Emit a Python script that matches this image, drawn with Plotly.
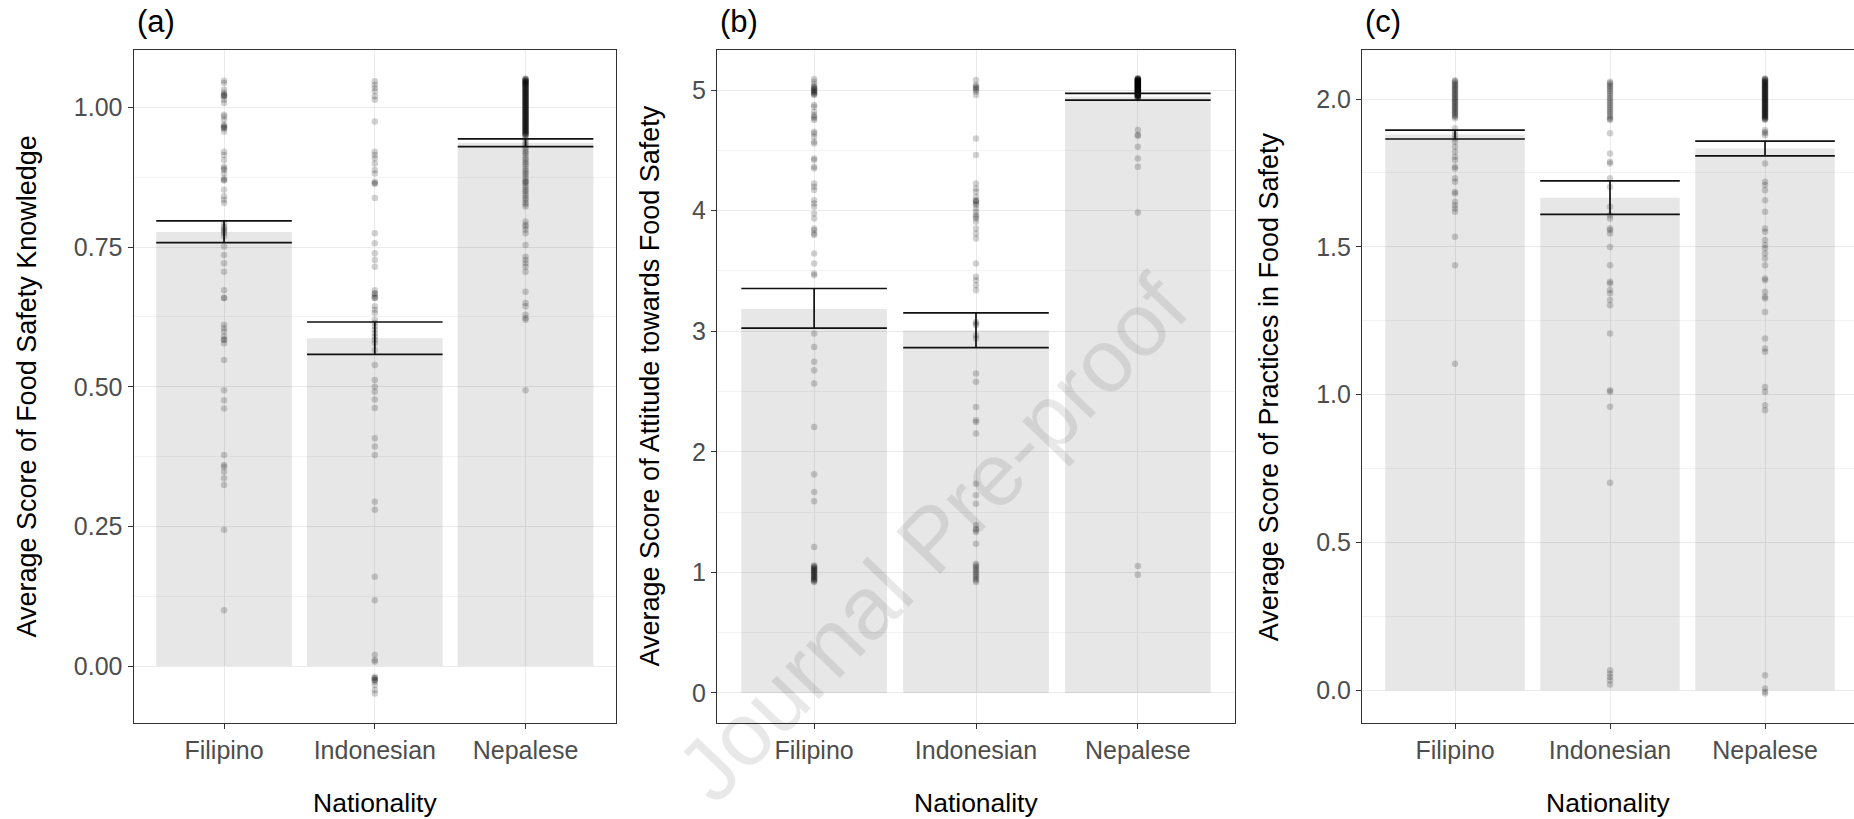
import plotly.graph_objects as go

# ---------------- data ----------------
nationalities = ["Filipino", "Indonesian", "Nepalese"]

# panel (a) knowledge
know_mean = [0.777, 0.587, 0.937]
know_lo = [0.758, 0.558, 0.930]
know_hi = [0.797, 0.616, 0.944]
know_filipino = [1.048, 1.044, 1.032, 1.027, 1.023, 1.023, 1.020, 1.020, 1.014, 1.008, 0.987, 0.984,
                 0.978, 0.969, 0.966, 0.966, 0.963, 0.963, 0.957, 0.921, 0.915, 0.906, 0.894, 0.891,
                 0.888, 0.882, 0.873, 0.870, 0.870, 0.853, 0.841, 0.835, 0.829, 0.793, 0.787, 0.784,
                 0.781, 0.778, 0.775, 0.769, 0.751, 0.736, 0.721, 0.706, 0.673, 0.659, 0.659, 0.611,
                 0.605, 0.599, 0.590, 0.584, 0.584, 0.578, 0.548, 0.494, 0.476, 0.461, 0.378, 0.360,
                 0.357, 0.348, 0.336, 0.324, 0.244, 0.100]
know_indonesian = [1.047, 1.041, 1.035, 1.029, 1.020, 1.014, 0.975, 0.921, 0.915, 0.909, 0.900, 0.888,
                   0.882, 0.867, 0.864, 0.864, 0.838, 0.775, 0.757, 0.739, 0.727, 0.715, 0.673, 0.667,
                   0.667, 0.662, 0.659, 0.659, 0.644, 0.638, 0.632, 0.620, 0.614, 0.608, 0.602, 0.596,
                   0.590, 0.584, 0.578, 0.566, 0.539, 0.512, 0.500, 0.491, 0.477, 0.462, 0.408, 0.393,
                   0.378, 0.294, 0.280, 0.160, 0.118, 0.020, 0.011, 0.008, -0.019, -0.022, -0.022,
                   -0.025, -0.025, -0.028, -0.034, -0.043, -0.049]
know_nepalese = [1.052, 1.051, 1.050, 1.049, 1.048, 1.048, 1.047, 1.046, 1.045, 1.044, 1.044, 1.043,
                 1.042, 1.041, 1.040, 1.039, 1.039, 1.037, 1.036, 1.035, 1.034, 1.033, 1.032, 1.031,
                 1.030, 1.029, 1.028, 1.027, 1.026, 1.025, 1.024, 1.023, 1.022, 1.021, 1.020, 1.019,
                 1.018, 1.017, 1.016, 1.015, 1.014, 1.013, 1.012, 1.011, 1.010, 1.009, 1.008, 1.007,
                 1.006, 1.005, 1.004, 1.003, 1.002, 1.001, 1.000, 0.999, 0.998, 0.997, 0.996, 0.995,
                 0.994, 0.993, 0.992, 0.991, 0.990, 0.989, 0.988, 0.987, 0.986, 0.985, 0.984, 0.983,
                 0.982, 0.981, 0.980, 0.979, 0.978, 0.977, 0.976, 0.975, 0.974, 0.973, 0.972, 0.971,
                 0.970, 0.969, 0.968, 0.967, 0.966, 0.965, 0.964, 0.963, 0.962, 0.961, 0.960, 0.959,
                 0.958, 0.957, 0.956, 0.955, 0.954, 0.953, 0.952, 0.951, 0.950,
                 0.945, 0.941, 0.936, 0.933, 0.929, 0.925, 0.921, 0.918, 0.914, 0.909, 0.906, 0.902,
                 0.899, 0.895, 0.890, 0.887, 0.883, 0.880, 0.876, 0.872, 0.868, 0.867, 0.865, 0.861,
                 0.857, 0.853, 0.850, 0.846, 0.842, 0.838, 0.835, 0.830, 0.827, 0.823, 0.796, 0.790,
                 0.787, 0.781, 0.775, 0.754, 0.733, 0.727, 0.721, 0.715, 0.706, 0.670, 0.650, 0.644,
                 0.629, 0.623, 0.620, 0.494]

# panel (b) attitude
att_mean = [3.185, 3.005, 4.945]
att_lo = [3.025, 2.864, 4.917]
att_hi = [3.354, 3.152, 4.972]
att_filipino = [5.091, 5.069, 5.045, 5.028, 5.020, 5.014, 5.007, 5.000, 4.993, 4.986, 4.979, 4.972,
                4.965, 4.959, 4.876, 4.862, 4.820, 4.793, 4.779, 4.765, 4.751, 4.654, 4.640, 4.613,
                4.571, 4.557, 4.433, 4.419, 4.364, 4.350, 4.225, 4.198, 4.170, 4.087, 4.059, 4.032,
                3.976, 3.935, 3.852, 3.838, 3.811, 3.797, 3.645, 3.562, 3.479, 3.465, 2.981, 2.870,
                2.746, 2.676, 2.566, 2.206, 1.813, 1.667, 1.589, 1.210, 1.058, 1.051, 1.044, 1.037,
                1.030, 1.024, 1.017, 1.010, 1.003, 0.996, 0.989, 0.982, 0.975, 0.968, 0.961, 0.955,
                0.948, 0.941, 0.934, 0.927, 0.920]
att_indonesian = [5.083, 5.041, 5.030, 5.022, 5.011, 5.000, 4.985, 4.959, 4.599, 4.461, 4.225, 4.184,
                  4.156, 4.115, 4.087, 4.080, 4.073, 4.060, 4.046, 4.018, 3.990, 3.963, 3.950, 3.935,
                  3.907, 3.852, 3.811, 3.769, 3.562, 3.451, 3.423, 3.382, 3.340, 3.077, 3.064, 3.050,
                  2.967, 2.939, 2.649, 2.580, 2.372, 2.261, 2.247, 2.151, 1.736, 1.639, 1.570, 1.390,
                  1.362, 1.349, 1.335, 1.238, 1.072, 1.058, 1.044, 1.030, 1.017, 1.003, 0.989, 0.975,
                  0.961, 0.948, 0.934, 0.920]
att_nepalese = [5.097, 5.095, 5.093, 5.091, 5.089, 5.087, 5.085, 5.083, 5.081, 5.079, 5.077, 5.075,
                5.073, 5.071, 5.069, 5.067, 5.065, 5.063, 5.061, 5.059, 5.057, 5.055, 5.053, 5.051,
                5.049, 5.047, 5.045, 5.043, 5.041, 5.039, 5.037, 5.035, 5.033, 5.031, 5.029, 5.027,
                5.025, 5.023, 5.021, 5.019, 5.017, 5.015, 5.013, 5.011, 5.009, 5.007, 5.005, 5.003,
                5.001, 4.999, 4.997, 4.995, 4.993, 4.991, 4.989, 4.987, 4.985, 4.983, 4.981, 4.979,
                4.977, 4.975, 4.973, 4.971, 4.969, 4.967, 4.965, 4.963, 4.961, 4.959, 4.957, 4.955,
                4.953, 4.951, 4.948, 4.945, 4.941, 4.936, 4.931, 4.668, 4.627, 4.620, 4.530, 4.433,
                4.364, 3.985, 1.052, 0.980]

# panel (c) practices
prac_mean = [1.880, 1.666, 1.833]
prac_lo = [1.865, 1.610, 1.808]
prac_hi = [1.895, 1.723, 1.858]
prac_filipino = [2.064, 2.060, 2.056, 2.052, 2.048, 2.044, 2.040, 2.036, 2.032, 2.028, 2.024, 2.020,
                 2.016, 2.012, 2.008, 2.004, 2.000, 1.996, 1.992, 1.988, 1.984, 1.980, 1.976, 1.972,
                 1.968, 1.964, 1.960, 1.956, 1.952, 1.948, 1.944, 1.940, 1.935, 1.901, 1.889, 1.878,
                 1.867, 1.856, 1.839, 1.822, 1.805, 1.794, 1.771, 1.765, 1.732, 1.720, 1.686, 1.681,
                 1.653, 1.641, 1.630, 1.619, 1.534, 1.438, 1.105]
prac_indonesian = [2.059, 2.054, 2.049, 2.044, 2.039, 2.034, 2.028, 2.022, 2.016, 2.010, 2.004, 1.998,
                   1.992, 1.986, 1.980, 1.974, 1.968, 1.962, 1.956, 1.950, 1.944, 1.938, 1.933, 1.929,
                   1.884, 1.816, 1.788, 1.782, 1.732, 1.703, 1.636, 1.607, 1.596, 1.562, 1.556, 1.545,
                   1.500, 1.438, 1.382, 1.376, 1.354, 1.343, 1.320, 1.303, 1.207, 1.015, 1.010, 0.959,
                   0.702, 0.068, 0.056, 0.045, 0.034, 0.020]
prac_nepalese = [2.070, 2.068, 2.066, 2.064, 2.062, 2.060, 2.058, 2.056, 2.054, 2.052, 2.050, 2.048,
                 2.046, 2.044, 2.042, 2.040, 2.038, 2.036, 2.034, 2.032, 2.030, 2.028, 2.026, 2.024,
                 2.022, 2.020, 2.018, 2.016, 2.014, 2.012, 2.010, 2.008, 2.006, 2.004, 2.002, 2.000,
                 1.998, 1.996, 1.994, 1.992, 1.990, 1.988, 1.986, 1.984, 1.982, 1.980, 1.978, 1.976,
                 1.974, 1.972, 1.970, 1.968, 1.966, 1.964, 1.962, 1.960, 1.958, 1.956, 1.954, 1.952,
                 1.950, 1.948, 1.946, 1.944, 1.942, 1.940, 1.938, 1.936, 1.934, 1.932, 1.929,
                 1.895, 1.889, 1.884, 1.878, 1.782, 1.720, 1.709, 1.692, 1.658, 1.619, 1.562, 1.551,
                 1.523, 1.506, 1.495, 1.478, 1.461, 1.438, 1.393, 1.387, 1.348, 1.331, 1.325, 1.280,
                 1.190, 1.156, 1.145, 1.026, 1.010, 0.964, 0.947, 0.051, 0.006, -0.005, -0.011]

panel_tags = ["(a)", "(b)", "(c)"]
y_titles = ["Average Score of Food Safety Knowledge",
            "Average Score of Attitude towards Food Safety",
            "Average Score of Practices in Food Safety"]
x_title = "Nationality"
watermark = "Journal Pre-proof"

# ---------------- styling / layout ----------------
FONT = "Liberation Sans, Arial, Helvetica, sans-serif"
BAR_FILL = "rgba(0,0,0,0.095)"
PT_COLOR = "rgba(0,0,0,0.18)"
GRID = "#ebebeb"
MINOR = "#f3f3f3"
BORDER = "#333333"

panels = [
    dict(mean=know_mean, lo=know_lo, hi=know_hi,
         pts=[know_filipino, know_indonesian, know_nepalese],
         xdom=[133.6 / 1854, 616 / 1854], xr=[-0.6, 2.6], yr=[-0.102, 1.103],
         dtick=0.25, minor=0.125, fmt=".2f", cap=67.8, ytshift=-107.6, mirror_y=True),
    dict(mean=att_mean, lo=att_lo, hi=att_hi,
         pts=[att_filipino, att_indonesian, att_nepalese],
         xdom=[717 / 1854, 1235 / 1854], xr=[-0.6, 2.6], yr=[-0.249, 5.332],
         dtick=1, minor=0.5, fmt="d", cap=72.8, ytshift=-68.0, mirror_y=True),
    dict(mean=prac_mean, lo=prac_lo, hi=prac_hi,
         pts=[prac_filipino, prac_indonesian, prac_nepalese],
         xdom=[1362 / 1854, 1.0], xr=[-0.6, 2.574], yr=[-0.1105, 2.166],
         dtick=0.5, minor=0.25, fmt=".1f", cap=69.8, ytshift=-93.3, mirror_y=False),
]

fig = go.Figure()
annotations = []
layout_axes = {}

for i, p in enumerate(panels):
    n = "" if i == 0 else str(i + 1)
    xa, ya = "x" + n, "y" + n
    # bars
    fig.add_trace(go.Bar(x=nationalities, y=p["mean"], width=0.9,
                         marker=dict(color=BAR_FILL, line=dict(width=0)),
                         xaxis=xa, yaxis=ya, showlegend=False, hoverinfo="skip"))
    # points
    for cat, vals in zip(nationalities, p["pts"]):
        fig.add_trace(go.Scatter(x=[cat] * len(vals), y=vals, mode="markers",
                                 marker=dict(size=6.5, color=PT_COLOR, line=dict(width=0)),
                                 xaxis=xa, yaxis=ya, showlegend=False, hoverinfo="skip"))
    # error bars
    up = [h - m for h, m in zip(p["hi"], p["mean"])]
    dn = [m - l for m, l in zip(p["mean"], p["lo"])]
    fig.add_trace(go.Scatter(x=nationalities, y=p["mean"], mode="markers",
                             marker=dict(size=1, opacity=0),
                             error_y=dict(type="data", symmetric=False, array=up, arrayminus=dn,
                                          width=p["cap"], thickness=1.7, color="#111111"),
                             xaxis=xa, yaxis=ya, showlegend=False, hoverinfo="skip"))

    layout_axes["xaxis" + n] = dict(
        domain=p["xdom"], anchor=ya, type="category", categoryorder="array",
        categoryarray=nationalities, range=p["xr"],
        showgrid=True, gridcolor=GRID, gridwidth=1, zeroline=False,
        showline=True, linecolor=BORDER, linewidth=1.2, mirror=True,
        ticks="outside", ticklen=5, tickcolor=BORDER, tickwidth=1.2,
        tickfont=dict(family=FONT, size=25, color="#4d4d4d"), fixedrange=True)
    layout_axes["yaxis" + n] = dict(
        domain=[0, 1], anchor=xa, range=p["yr"], tickmode="linear", tick0=0, dtick=p["dtick"],
        tickformat=p["fmt"], showgrid=True, gridcolor=GRID, gridwidth=1, zeroline=False,
        minor=dict(showgrid=True, gridcolor=MINOR, gridwidth=0.8, tick0=0, dtick=p["minor"]),
        showline=True, linecolor=BORDER, linewidth=1.2, mirror=p["mirror_y"],
        ticks="outside", ticklen=5, tickcolor=BORDER, tickwidth=1.2,
        tickfont=dict(family=FONT, size=25, color="#4d4d4d"), fixedrange=True)

    xd = xa + " domain"
    annotations.append(dict(text=panel_tags[i], xref=xd, yref="paper", x=0, y=1,
                            xanchor="left", yanchor="middle", xshift=1, yshift=29,
                            showarrow=False, font=dict(family=FONT, size=31, color="black")))
    annotations.append(dict(text=y_titles[i], xref=xd, yref="paper", x=0, y=0.5,
                            xanchor="center", yanchor="middle", xshift=p["ytshift"],
                            textangle=-90, showarrow=False,
                            font=dict(family=FONT, size=27, color="black")))
    annotations.append(dict(text=x_title, xref=xd, yref="paper", x=0.5, y=0,
                            xanchor="center", yanchor="middle", yshift=-80,
                            showarrow=False, font=dict(family=FONT, size=26.5, color="black")))

annotations.append(dict(text=watermark, xref="paper", yref="paper", x=932 / 1854,
                        y=(722.7 - 538) / 672.7, xanchor="center", yanchor="middle",
                        textangle=-46, showarrow=False,
                        font=dict(family=FONT, size=89, color="rgba(0,0,0,0.09)")))

fig.update_layout(
    width=1854, height=819, margin=dict(l=0, r=0, t=50, b=96, pad=0),
    paper_bgcolor="white", plot_bgcolor="white", barmode="overlay",
    showlegend=False, annotations=annotations, **layout_axes,
)

fig.write_html(
    "out.html",
    config=dict(displayModeBar=False),
    post_script="document.body.style.margin='0px';document.body.style.overflow='hidden';",
)
